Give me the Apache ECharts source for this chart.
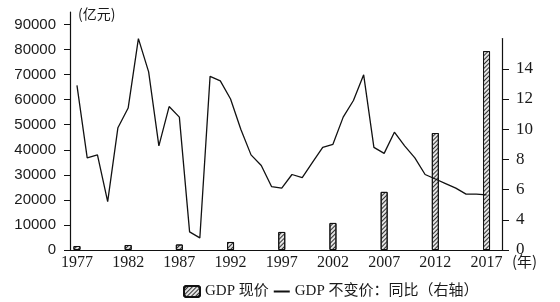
<!DOCTYPE html>
<html>
<head>
<meta charset="utf-8">
<title>GDP</title>
<script src="https://cdn.jsdelivr.net/npm/echarts@6/dist/echarts.min.js"></script>
<style>
    html, body { margin: 0; padding: 0; background: #fff; }
    #chart { width: 560px; height: 302px; }
</style>
</head>
<body>
<div id="chart"></div>
<script>
// 折线：逐年（右轴）
const years = [1977, 1978, 1979, 1980, 1981, 1982, 1983, 1984, 1985, 1986,
    1987, 1988, 1989, 1990, 1991, 1992, 1993, 1994, 1995, 1996,
    1997, 1998, 1999, 2000, 2001, 2002, 2003, 2004, 2005, 2006,
    2007, 2008, 2009, 2010, 2011, 2012, 2013, 2014, 2015, 2016, 2017];
const growth = [12.9, 8.1, 8.3, 5.2, 10.1, 11.4, 16.0, 13.8, 8.9, 11.5,
    10.8, 3.2, 2.8, 13.5, 13.2, 12.0, 10.0, 8.3, 7.6, 6.2,
    6.1, 7.0, 6.8, 7.8, 8.8, 9.0, 10.8, 11.9, 13.6, 8.8,
    8.4, 9.8, 8.9, 8.1, 7.0, 6.7, 6.4, 6.1, 5.7, 5.7, 5.65];

// 柱子：每五年（左轴，亿元）
const barYears = [1977, 1982, 1987, 1992, 1997, 2002, 2007, 2012, 2017];
const gdp = [1600, 2000, 2200, 3200, 7200, 10800, 23200, 46700, 79400];

// 刻度
const leftTicks = [0, 10000, 20000, 30000, 40000, 50000, 60000, 70000, 80000, 90000];
const rightTicks = [2, 4, 6, 8, 10, 12, 14];
const yearTicks = [1977, 1982, 1987, 1992, 1997, 2002, 2007, 2012, 2017];

const barName = 'GDP 现价';
const lineName = 'GDP 不变价：同比（右轴）';

const serif = "'Liberation Serif', 'Noto Sans CJK SC', serif";
const sans = "'Liberation Sans', 'Noto Sans CJK SC', sans-serif";

const lineData = years.map((y, i) => [y, growth[i]]);
const barData = barYears.map((y, i) => [y, gdp[i]]);

let chart = echarts.init(document.getElementById('chart'));

let xBase = {
    type: 'value',
    min: 1976.32,
    max: 2018.51,
    splitLine: { show: false },
    axisTick: { show: false }
};

let option = {
    animation: false,
    grid: [
        { left: 70, right: 58, top: 12, bottom: 52 },
        { left: 70, right: 58, top: 38.6, bottom: 52 }
    ],
    xAxis: [
        Object.assign({}, xBase, {
            gridIndex: 0,
            axisLine: { lineStyle: { color: '#111', width: 1.2 } },
            axisLabel: {
                customValues: yearTicks,
                formatter: v => String(v),
                margin: 5,
                color: '#1a1a1a',
                fontFamily: serif,
                fontSize: 16
            }
        }),
        Object.assign({}, xBase, {
            gridIndex: 1,
            show: false
        })
    ],
    yAxis: [
        {
            type: 'value',
            gridIndex: 0,
            position: 'left',
            min: 0,
            max: 95000,
            splitLine: { show: false },
            axisLine: { show: true, lineStyle: { color: '#111', width: 1.2 } },
            axisTick: { show: true, length: 6, customValues: leftTicks, lineStyle: { color: '#111' } },
            axisLabel: {
                customValues: leftTicks,
                formatter: v => String(v),
                margin: 14,
                color: '#1a1a1a',
                fontFamily: sans,
                fontSize: 15
            }
        },
        {
            type: 'value',
            gridIndex: 1,
            position: 'right',
            min: 2,
            max: 16,
            splitLine: { show: false },
            axisLine: { show: true, lineStyle: { color: '#111', width: 1.2 } },
            axisTick: { show: true, length: 7, customValues: rightTicks, lineStyle: { color: '#111' } },
            axisLabel: {
                customValues: rightTicks,
                // 右轴最下面的刻度在原图中标为 0
                formatter: v => (v === 2 ? '0' : String(v)),
                margin: 14,
                color: '#1a1a1a',
                fontFamily: serif,
                fontSize: 17
            }
        }
    ],
    legend: {
        left: 178,
        top: 279,
        itemWidth: 16,
        itemHeight: 11,
        itemGap: 4,
        textStyle: { fontFamily: serif, fontSize: 15, color: '#1a1a1a' },
        data: [
            { name: barName },
            { name: lineName, itemStyle: { opacity: 0 } }
        ]
    },
    graphic: [
        {
            type: 'text',
            left: 78,
            top: 7,
            style: { text: '(亿元)', font: "14px 'Noto Sans CJK SC'", fill: '#1a1a1a' }
        },
        {
            type: 'text',
            left: 512,
            top: 254,
            style: { text: '(年)', font: "15px 'Noto Sans CJK SC'", fill: '#1a1a1a' }
        }
    ],
    series: [
        {
            name: barName,
            type: 'bar',
            xAxisIndex: 0,
            yAxisIndex: 0,
            barWidth: 7,
            data: barData,
            itemStyle: {
                color: '#e4e4e4',
                borderColor: '#111',
                borderWidth: 1,
                decal: {
                    symbol: 'rect',
                    symbolSize: 1,
                    dashArrayX: [1, 0],
                    dashArrayY: [1, 2],
                    rotation: -Math.PI / 4,
                    color: '#333'
                }
            }
        },
        {
            name: lineName,
            type: 'line',
            xAxisIndex: 1,
            yAxisIndex: 1,
            symbol: 'none',
            data: lineData,
            lineStyle: { color: '#111', width: 1.3 },
            itemStyle: { color: '#111' }
        }
    ]
};

chart.setOption(option);
</script>
</body>
</html>
